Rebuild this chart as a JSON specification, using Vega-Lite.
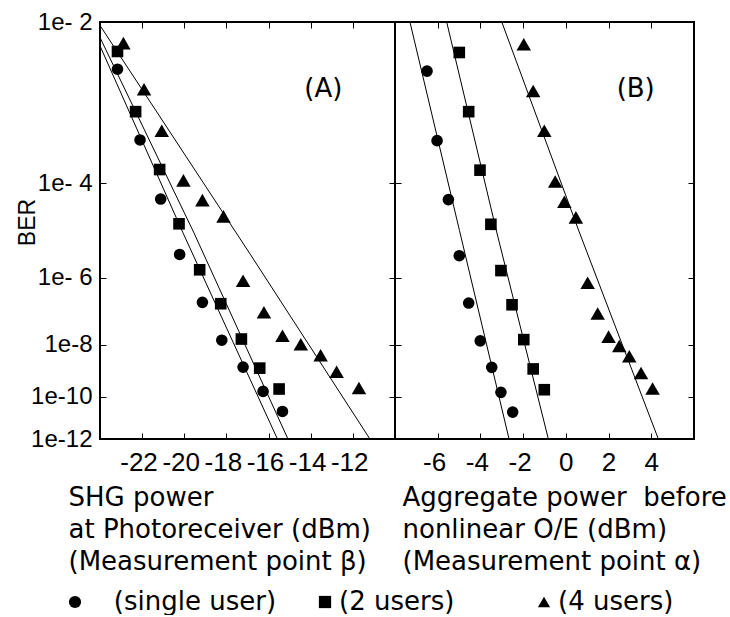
{
  "$schema": "https://vega.github.io/schema/vega-lite/v6.json",
  "background": "white",
  "padding": {"left": 15, "top": 9, "right": 0, "bottom": 0},
  "bounds": "flush",
  "config": {
    "font": "DejaVu Sans",
    "view": {"stroke": "black", "strokeWidth": 2},
    "axis": {
      "grid": false,
      "domain": false,
      "tickColor": "black",
      "tickWidth": 1,
      "tickSize": -6,
      "labelFont": "Liberation Sans",
      "labelFontSize": 26,
      "labelColor": "black",
      "labelOverlap": false,
      "titleFont": "DejaVu Sans",
      "titleFontWeight": "normal",
      "titleColor": "black"
    }
  },
  "datasets": {
    "ptsA": [
      {"series": "single user", "power": -23.17, "negLogBER": 2.45},
      {"series": "single user", "power": -22.10, "negLogBER": 3.32},
      {"series": "single user", "power": -21.12, "negLogBER": 4.28},
      {"series": "single user", "power": -20.22, "negLogBER": 5.43},
      {"series": "single user", "power": -19.14, "negLogBER": 6.67},
      {"series": "single user", "power": -18.22, "negLogBER": 7.85},
      {"series": "single user", "power": -17.21, "negLogBER": 8.81},
      {"series": "single user", "power": -16.26, "negLogBER": 9.78},
      {"series": "single user", "power": -15.34, "negLogBER": 10.66},
      {"series": "2 users", "power": -23.17, "negLogBER": 2.27},
      {"series": "2 users", "power": -22.31, "negLogBER": 2.94},
      {"series": "2 users", "power": -21.17, "negLogBER": 3.77},
      {"series": "2 users", "power": -20.25, "negLogBER": 4.76},
      {"series": "2 users", "power": -19.27, "negLogBER": 5.80},
      {"series": "2 users", "power": -18.27, "negLogBER": 6.71},
      {"series": "2 users", "power": -17.29, "negLogBER": 7.81},
      {"series": "2 users", "power": -16.42, "negLogBER": 8.85},
      {"series": "2 users", "power": -15.50, "negLogBER": 9.68},
      {"series": "4 users", "power": -22.89, "negLogBER": 2.19},
      {"series": "4 users", "power": -21.91, "negLogBER": 2.67},
      {"series": "4 users", "power": -21.07, "negLogBER": 3.19},
      {"series": "4 users", "power": -20.04, "negLogBER": 3.95},
      {"series": "4 users", "power": -19.14, "negLogBER": 4.30},
      {"series": "4 users", "power": -18.14, "negLogBER": 4.61},
      {"series": "4 users", "power": -17.21, "negLogBER": 6.08},
      {"series": "4 users", "power": -16.22, "negLogBER": 6.96},
      {"series": "4 users", "power": -15.34, "negLogBER": 7.70},
      {"series": "4 users", "power": -14.47, "negLogBER": 7.99},
      {"series": "4 users", "power": -13.53, "negLogBER": 8.37},
      {"series": "4 users", "power": -12.77, "negLogBER": 8.99},
      {"series": "4 users", "power": -11.71, "negLogBER": 9.64}
    ],
    "fitA": [
      {"series": "single user", "power": -24.0, "negLogBER": 2.216},
      {"series": "single user", "power": -20.06, "negLogBER": 4.95},
      {"series": "single user", "power": -15.58, "negLogBER": 12.0},
      {"series": "2 users", "power": -24.0, "negLogBER": 2.138},
      {"series": "2 users", "power": -19.54, "negLogBER": 4.95},
      {"series": "2 users", "power": -15.08, "negLogBER": 12.0},
      {"series": "4 users", "power": -24.0, "negLogBER": 2.03},
      {"series": "4 users", "power": -16.85, "negLogBER": 5.44},
      {"series": "4 users", "power": -11.19, "negLogBER": 12.0}
    ],
    "ptsB": [
      {"series": "single user", "power": -6.50, "negLogBER": 2.47},
      {"series": "single user", "power": -6.03, "negLogBER": 3.33},
      {"series": "single user", "power": -5.50, "negLogBER": 4.29},
      {"series": "single user", "power": -4.99, "negLogBER": 5.46},
      {"series": "single user", "power": -4.55, "negLogBER": 6.69},
      {"series": "single user", "power": -4.01, "negLogBER": 7.87},
      {"series": "single user", "power": -3.47, "negLogBER": 8.82},
      {"series": "single user", "power": -3.04, "negLogBER": 9.82},
      {"series": "single user", "power": -2.49, "negLogBER": 10.69},
      {"series": "2 users", "power": -4.99, "negLogBER": 2.28},
      {"series": "2 users", "power": -4.55, "negLogBER": 2.94},
      {"series": "2 users", "power": -4.02, "negLogBER": 3.78},
      {"series": "2 users", "power": -3.51, "negLogBER": 4.77},
      {"series": "2 users", "power": -3.04, "negLogBER": 5.82},
      {"series": "2 users", "power": -2.52, "negLogBER": 6.74},
      {"series": "2 users", "power": -1.97, "negLogBER": 7.83},
      {"series": "2 users", "power": -1.53, "negLogBER": 8.88},
      {"series": "2 users", "power": -1.01, "negLogBER": 9.71},
      {"series": "4 users", "power": -1.97, "negLogBER": 2.20},
      {"series": "4 users", "power": -1.53, "negLogBER": 2.69},
      {"series": "4 users", "power": -1.01, "negLogBER": 3.19},
      {"series": "4 users", "power": -0.50, "negLogBER": 3.97},
      {"series": "4 users", "power": -0.07, "negLogBER": 4.33},
      {"series": "4 users", "power": 0.47, "negLogBER": 4.63},
      {"series": "4 users", "power": 1.02, "negLogBER": 6.13},
      {"series": "4 users", "power": 1.49, "negLogBER": 7.00},
      {"series": "4 users", "power": 2.00, "negLogBER": 7.73},
      {"series": "4 users", "power": 2.50, "negLogBER": 8.05},
      {"series": "4 users", "power": 2.97, "negLogBER": 8.41},
      {"series": "4 users", "power": 3.52, "negLogBER": 9.04},
      {"series": "4 users", "power": 4.06, "negLogBER": 9.66}
    ],
    "fitB": [
      {"series": "single user", "power": -7.30, "negLogBER": 2.0},
      {"series": "single user", "power": -4.98, "negLogBER": 4.90},
      {"series": "single user", "power": -2.66, "negLogBER": 12.0},
      {"series": "2 users", "power": -5.58, "negLogBER": 2.0},
      {"series": "2 users", "power": -3.25, "negLogBER": 4.91},
      {"series": "2 users", "power": -0.82, "negLogBER": 12.0},
      {"series": "4 users", "power": -3.00, "negLogBER": 2.0},
      {"series": "4 users", "power": 0.61, "negLogBER": 4.91},
      {"series": "4 users", "power": 4.33, "negLogBER": 12.0}
    ]
  },
  "spacing": 0,
  "resolve": {"scale": {"x": "independent", "y": "independent", "shape": "shared"}, "legend": {"shape": "shared"}},
  "hconcat": [
    {
      "width": 295,
      "height": 417,
      "resolve": {"axis": {"x": "independent", "y": "independent"}},
      "layer": [
        {
          "data": {"name": "ptsA"},
          "transform": [{"filter": "datum.series != '4 users'"}],
          "mark": {"type": "point", "filled": true, "opacity": 1, "color": "black", "size": 135, "strokeWidth": 0},
          "encoding": {
            "x": {"field": "power", "type": "quantitative",
              "scale": {"domain": [-24, -10], "nice": false, "zero": false},
              "axis": {"orient": "bottom", "values": [-22, -20, -18, -16, -14, -12], "labelPadding": 16,
                "labelExpr": "datum.value < 0 ? datum.value + '\u00a0\u200b' : '' + datum.value",
                "title": ["SHG power", "at Photoreceiver (dBm)", "(Measurement point β)"],
                "titleFontSize": 26, "titleAlign": "left", "titleAnchor": "start", "titleX": -32, "titleY": 66, "titleBaseline": "alphabetic", "titleLineHeight": 32}},
            "y": {"field": "negLogBER", "type": "quantitative",
              "scale": {"type": "log", "domain": [2, 12], "reverse": true, "nice": false},
              "axis": {"orient": "left", "values": [2, 4, 6, 8, 10, 12], "labelPadding": 14, "labelFontSize": 24,
                "labelExpr": "datum.value == 8 ? '1e-8' : datum.value < 10 ? '1e- ' + datum.value : '1e-' + datum.value",
                "title": "BER", "titleFont": "Liberation Sans", "titleFontSize": 23, "titleX": -66, "titleY": 200, "titleBaseline": "alphabetic", "titleAngle": -90, "titleAlign": "center"}},
            "shape": {"field": "series", "type": "nominal",
              "scale": {"domain": ["single user", "2 users", "4 users"], "range": ["circle", "square", "triangle-up"]},
              "legend": {"orient": "none", "legendX": -38, "legendY": 567, "direction": "horizontal", "title": null,
                "labelFont": "DejaVu Sans", "labelFontSize": 26, "labelColor": "black", "labelOffset": 1, "labelLimit": 500,
                "symbolSize": 150, "symbolFillColor": "black", "symbolStrokeWidth": 0, "symbolOpacity": 1,
                "columnPadding": 35, "padding": 0,
                "labelExpr": "datum.label == 'single user' ? '\u200b\u00a0\u00a0\u00a0(single user)' : datum.label == '2 users' ? '(2 users)\u00a0\u00a0\u00a0\u00a0\u00a0\u200b' : '(' + datum.label + ')'"}}
          }
        },
        {
          "data": {"name": "ptsA"},
          "transform": [{"filter": "datum.series == '4 users'"}],
          "mark": {"type": "point", "filled": true, "opacity": 1, "color": "black", "size": 210, "strokeWidth": 0},
          "encoding": {
            "x": {"field": "power", "type": "quantitative", "axis": null},
            "y": {"field": "negLogBER", "type": "quantitative", "axis": null},
            "shape": {"field": "series", "type": "nominal"}
          }
        },
        {
          "data": {"name": "fitA"},
          "mark": {"type": "line", "color": "black", "strokeWidth": 1, "clip": true},
          "encoding": {
            "x": {"field": "power", "type": "quantitative",
              "axis": {"orient": "top", "values": [-22, -20, -18, -16, -14, -12], "labels": false, "title": null}},
            "y": {"field": "negLogBER", "type": "quantitative",
              "axis": {"orient": "right", "values": [2, 4, 6, 8, 10, 12], "labels": false, "title": null}},
            "detail": {"field": "series"}
          }
        },
        {
          "data": {"values": [{"power": -13.4, "negLogBER": 2.67, "label": "(A)"}]},
          "mark": {"type": "text", "font": "DejaVu Sans", "fontSize": 26, "color": "black"},
          "encoding": {
            "x": {"field": "power", "type": "quantitative", "axis": null},
            "y": {"field": "negLogBER", "type": "quantitative", "axis": null},
            "text": {"field": "label"}
          }
        }
      ]
    },
    {
      "width": 299,
      "height": 417,
      "resolve": {"axis": {"x": "independent", "y": "independent"}},
      "layer": [
        {
          "data": {"name": "ptsB"},
          "transform": [{"filter": "datum.series != '4 users'"}],
          "mark": {"type": "point", "filled": true, "opacity": 1, "color": "black", "size": 135, "strokeWidth": 0},
          "encoding": {
            "x": {"field": "power", "type": "quantitative",
              "scale": {"domain": [-8, 6], "nice": false, "zero": false},
              "axis": {"orient": "bottom", "values": [-6, -4, -2, 0, 2, 4], "labelPadding": 16,
                "labelExpr": "datum.value < 0 ? datum.value + '\u00a0\u200b' : '' + datum.value",
                "title": ["Aggregate power\u00a0 before", "nonlinear O/E (dBm)", "(Measurement point α)"],
                "titleFontSize": 26, "titleAlign": "left", "titleAnchor": "start", "titleX": 7, "titleY": 66, "titleBaseline": "alphabetic", "titleLineHeight": 32}},
            "y": {"field": "negLogBER", "type": "quantitative",
              "scale": {"type": "log", "domain": [2, 12], "reverse": true, "nice": false},
              "axis": {"orient": "left", "values": [2, 4, 6, 8, 10, 12], "labels": false, "title": null}},
            "shape": {"field": "series", "type": "nominal",
              "scale": {"domain": ["single user", "2 users", "4 users"], "range": ["circle", "square", "triangle-up"]}}
          }
        },
        {
          "data": {"name": "ptsB"},
          "transform": [{"filter": "datum.series == '4 users'"}],
          "mark": {"type": "point", "filled": true, "opacity": 1, "color": "black", "size": 210, "strokeWidth": 0},
          "encoding": {
            "x": {"field": "power", "type": "quantitative", "axis": null},
            "y": {"field": "negLogBER", "type": "quantitative", "axis": null},
            "shape": {"field": "series", "type": "nominal"}
          }
        },
        {
          "data": {"name": "fitB"},
          "mark": {"type": "line", "color": "black", "strokeWidth": 1, "clip": true},
          "encoding": {
            "x": {"field": "power", "type": "quantitative",
              "axis": {"orient": "top", "values": [-6, -4, -2, 0, 2, 4], "labels": false, "title": null}},
            "y": {"field": "negLogBER", "type": "quantitative",
              "axis": {"orient": "right", "values": [2, 4, 6, 8, 10, 12], "labels": false, "title": null}},
            "detail": {"field": "series"}
          }
        },
        {
          "data": {"values": [{"power": 3.27, "negLogBER": 2.67, "label": "(B)"}]},
          "mark": {"type": "text", "font": "DejaVu Sans", "fontSize": 26, "color": "black"},
          "encoding": {
            "x": {"field": "power", "type": "quantitative", "axis": null},
            "y": {"field": "negLogBER", "type": "quantitative", "axis": null},
            "text": {"field": "label"}
          }
        }
      ]
    }
  ]
}
